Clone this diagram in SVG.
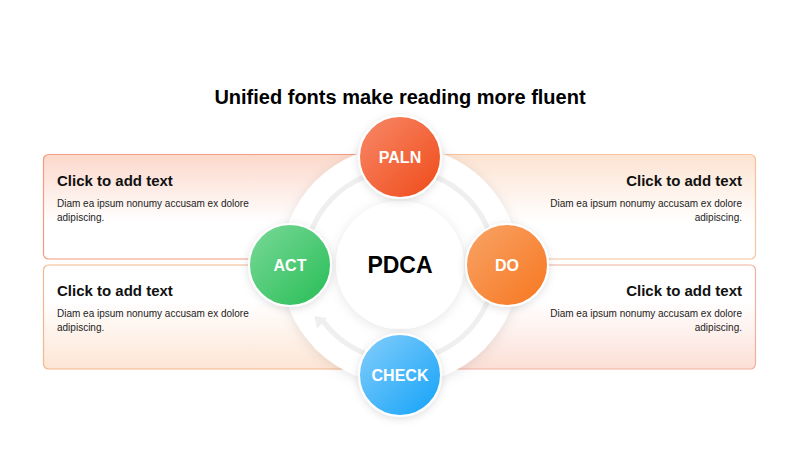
<svg xmlns="http://www.w3.org/2000/svg" width="800" height="450" viewBox="0 0 800 450">
<style>
.title{font-family:"Liberation Sans",Arial,sans-serif;font-weight:bold;font-size:20px;fill:#000;text-anchor:middle}
.bh{font-family:"Liberation Sans",Arial,sans-serif;font-weight:bold;font-size:15px;fill:#111}
.bt{font-family:"Liberation Sans",Arial,sans-serif;font-size:10px;fill:#222}
.r{text-anchor:end}
.nl{font-family:"Liberation Sans",Arial,sans-serif;font-weight:bold;font-size:16px;fill:#fff;text-anchor:middle}
.ctr{font-family:"Liberation Sans",Arial,sans-serif;font-weight:bold;font-size:23px;fill:#000;text-anchor:middle}
.track{fill:none;stroke:#efefef;stroke-width:5}
.node{stroke:#fff;stroke-width:2}
</style>
<defs>
<linearGradient id="gTL" x1="0" y1="0" x2="0" y2="1"><stop offset="0" stop-color="#fcd8cb"/><stop offset="0.65" stop-color="#fff"/></linearGradient>
<linearGradient id="gBL" x1="0" y1="0" x2="0" y2="1"><stop offset="0.35" stop-color="#fff"/><stop offset="1" stop-color="#fde5d4"/></linearGradient>
<linearGradient id="gTR" x1="0" y1="0" x2="0" y2="1"><stop offset="0" stop-color="#fde3d2"/><stop offset="0.65" stop-color="#fff"/></linearGradient>
<linearGradient id="gBR" x1="0" y1="0" x2="0" y2="1"><stop offset="0.35" stop-color="#fff"/><stop offset="1" stop-color="#fcdfd6"/></linearGradient>
<linearGradient id="gP" x1="0" y1="0" x2="1" y2="1"><stop offset="0" stop-color="#f8896a"/><stop offset="1" stop-color="#ef4a18"/></linearGradient>
<linearGradient id="gD" x1="0" y1="0" x2="1" y2="1"><stop offset="0" stop-color="#f8a468"/><stop offset="1" stop-color="#f7761e"/></linearGradient>
<linearGradient id="gC" x1="0" y1="0" x2="1" y2="1"><stop offset="0" stop-color="#86cefb"/><stop offset="1" stop-color="#12a2f8"/></linearGradient>
<linearGradient id="gA" x1="0" y1="0" x2="1" y2="1"><stop offset="0" stop-color="#7bd998"/><stop offset="1" stop-color="#27bd56"/></linearGradient>
<filter id="sh" x="-30%" y="-30%" width="160%" height="160%"><feDropShadow dx="0" dy="2" stdDeviation="6" flood-color="#000" flood-opacity="0.1"/></filter>
<filter id="shs" x="-30%" y="-30%" width="160%" height="160%"><feDropShadow dx="0" dy="2" stdDeviation="4" flood-color="#000" flood-opacity="0.13"/></filter>
</defs>
<rect width="800" height="450" fill="#fff"/>
<text class="title" x="400" y="104">Unified fonts make reading more fluent</text>

<g id="box-tl"><rect x="43.5" y="154.5" width="360" height="104.5" rx="5" fill="url(#gTL)" stroke="#f29c82" stroke-width="1.2"/></g>
<g id="box-bl"><rect x="43.5" y="265" width="360" height="104" rx="5" fill="url(#gBL)" stroke="#f4b68a" stroke-width="1.2"/></g>
<g id="box-tr"><rect x="396.5" y="154.5" width="359" height="104.5" rx="5" fill="url(#gTR)" stroke="#f6c39c" stroke-width="1.2"/></g>
<g id="box-br"><rect x="396.5" y="265" width="359" height="104" rx="5" fill="url(#gBR)" stroke="#f0b09e" stroke-width="1.2"/></g>

<g id="ring"><circle cx="400" cy="265" r="119" fill="#fff" filter="url(#sh)"/></g>

<g id="connectors">
<path class="track" d="M 310.7 297.5 A 95 95 0 1 1 383.5 358.6"/>
<path class="track" d="M 383.5 358.6 A 95 95 0 0 1 322.5 320.3"/>
<polygon points="314.5,316 327,318 317,329" fill="#efefef"/>
</g>

<g id="node-center"><circle cx="400" cy="265" r="64" fill="#fff" filter="url(#sh)"/><text class="ctr" x="400" y="273">PDCA</text></g>

<g id="node-plan"><circle class="node" cx="400" cy="157" r="41" fill="url(#gP)" filter="url(#shs)"/><text class="nl" x="400" y="163">PALN</text></g>
<g id="node-do"><circle class="node" cx="507" cy="265" r="41" fill="url(#gD)" filter="url(#shs)"/><text class="nl" x="507" y="271">DO</text></g>
<g id="node-check"><circle class="node" cx="400" cy="375" r="41" fill="url(#gC)" filter="url(#shs)"/><text class="nl" x="400" y="381">CHECK</text></g>
<g id="node-act"><circle class="node" cx="290" cy="265" r="41" fill="url(#gA)" filter="url(#shs)"/><text class="nl" x="290" y="271">ACT</text></g>

<g id="text-tl"><text class="bh" x="57" y="186">Click to add text</text><text class="bt" x="57" y="207">Diam ea ipsum nonumy accusam ex dolore</text><text class="bt" x="57" y="221">adipiscing.</text></g>
<g id="text-bl"><text class="bh" x="57" y="296">Click to add text</text><text class="bt" x="57" y="317">Diam ea ipsum nonumy accusam ex dolore</text><text class="bt" x="57" y="331">adipiscing.</text></g>
<g id="text-tr"><text class="bh r" x="742" y="186">Click to add text</text><text class="bt r" x="742" y="207">Diam ea ipsum nonumy accusam ex dolore</text><text class="bt r" x="742" y="221">adipiscing.</text></g>
<g id="text-br"><text class="bh r" x="742" y="296">Click to add text</text><text class="bt r" x="742" y="317">Diam ea ipsum nonumy accusam ex dolore</text><text class="bt r" x="742" y="331">adipiscing.</text></g>
</svg>
